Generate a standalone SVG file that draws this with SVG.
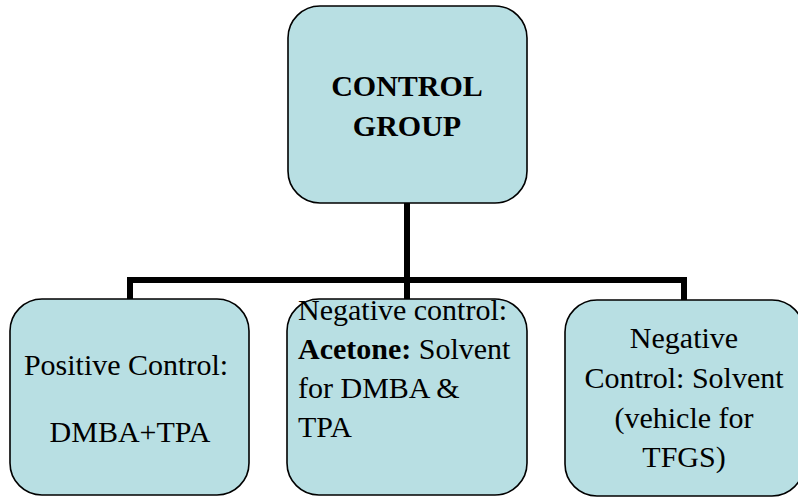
<svg xmlns="http://www.w3.org/2000/svg" width="798" height="497" viewBox="0 0 798 497">
<style>
.box{fill:#b8dfe3;stroke:#000;stroke-width:1.6}
text{font-family:'Liberation Serif','Times New Roman',Times,'DejaVu Serif',serif;font-size:30px;fill:#000}
.b{font-weight:bold}
.c{text-anchor:middle}
.conn{fill:none;stroke:#000;stroke-width:6;stroke-linecap:butt;stroke-linejoin:miter}
</style>
<rect x="0" y="0" width="798" height="497" fill="#fff"/>
<g id="connectors">
<line class="conn" x1="407" y1="203" x2="407" y2="299"/>
<polyline class="conn" points="130,299 130,280 684,280 684,300"/>
</g>
<g id="control-group">
<rect class="box" x="288" y="6" width="239" height="197" rx="32" ry="32"/>
<text class="b c" x="407" y="96" font-family="Liberation Serif, serif">CONTROL</text>
<text class="b c" x="407" y="136" font-family="Liberation Serif, serif">GROUP</text>
</g>
<g id="positive-control" font-family="Liberation Serif, serif">
<rect class="box" x="10" y="299" width="239" height="196" rx="32" ry="32"/>
<text class="c" x="126" y="375">Positive Control:</text>
<text class="c" x="130" y="442">DMBA+TPA</text>
</g>
<g id="negative-acetone">
<rect class="box" x="287" y="299" width="240" height="196" rx="32" ry="32"/>
<text x="298" y="320">Negative control:</text>
<text x="298" y="359"><tspan class="b">Acetone:</tspan> Solvent</text>
<text x="298" y="398">for DMBA &amp;</text>
<text x="298" y="437">TPA</text>
</g>
<g id="negative-vehicle">
<rect class="box" x="565" y="300" width="239" height="196" rx="32" ry="32"/>
<text class="c" x="684" y="348">Negative</text>
<text class="c" x="684" y="388">Control: Solvent</text>
<text class="c" x="684" y="428">(vehicle for</text>
<text class="c" x="684" y="467">TFGS)</text>
</g>
</svg>
